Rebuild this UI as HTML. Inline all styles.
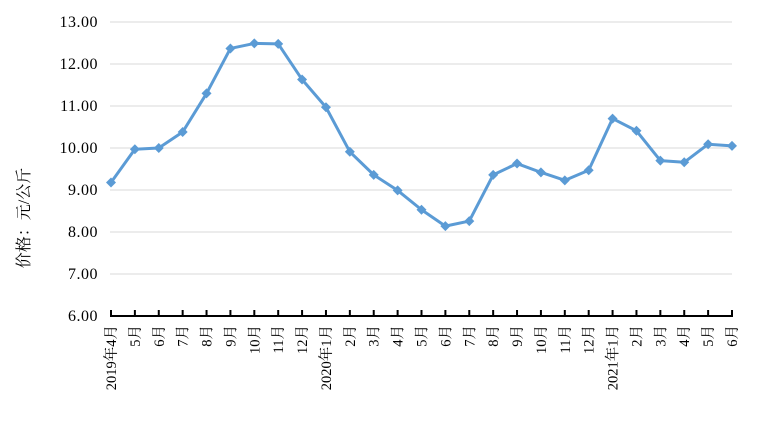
<!DOCTYPE html>
<html><head><meta charset="utf-8"><style>
body{margin:0;background:#fff;}
svg text{font-family:"Liberation Serif","Noto Serif CJK SC",serif;fill:#000;}
</style></head><body>
<svg id="chart" width="764" height="432" xmlns="http://www.w3.org/2000/svg"></svg>
<script>
const categories=["2019年4月","5月","6月","7月","8月","9月","10月","11月","12月","2020年1月","2月","3月","4月","5月","6月","7月","8月","9月","10月","11月","12月","2021年1月","2月","3月","4月","5月","6月"];
const values=[9.18,9.97,10.0,10.38,11.3,12.37,12.49,12.48,11.63,10.97,9.91,9.36,8.99,8.53,8.14,8.26,9.36,9.63,9.42,9.23,9.47,10.7,10.41,9.7,9.66,10.09,10.05];
const yTicks=[6,7,8,9,10,11,12,13];
const yTickLabels=["6.00","7.00","8.00","9.00","10.00","11.00","12.00","13.00"];
const NS="http://www.w3.org/2000/svg";
const svg=document.getElementById('chart');
const x0=111,x1=732,yMin=6,yMax=13,yb=316,yt=22;
function xs(i){return x0+(x1-x0)*i/(categories.length-1);}
function ys(v){return yb-(v-yMin)*(yb-yt)/(yMax-yMin);}
function mk(t,a){const e=document.createElementNS(NS,t);for(const k in a)e.setAttribute(k,a[k]);svg.appendChild(e);return e;}
yTicks.forEach((v,i)=>{
  if(v!==yMin){const g=mk('line',{x1:x0-1,x2:x1,y1:ys(v),y2:ys(v),stroke:'#d9d9d9','stroke-width':1});
  
  }
  const t=mk('text',{x:98,y:ys(v)+5,'text-anchor':'end','font-size':'16','letter-spacing':'0.5'});
  
  
  t.textContent=yTickLabels[i];
});
const ax=mk('line',{x1:x0-1,x2:x1+1,y1:yb,y2:yb,stroke:'#000','stroke-width':2});


categories.forEach((c,i)=>{
  const tk=mk('line',{x1:xs(i),x2:xs(i),y1:yb,y2:yb-6,stroke:'#000','stroke-width':2});
  
  
  const t=mk('text',{transform:`translate(${xs(i)+5},325) rotate(-90)`,'text-anchor':'end','font-size':'14.5'});
  
  
  t.textContent=c;
});
const yt2=mk('text',{transform:'translate(29,218) rotate(-90)','text-anchor':'middle','font-size':'16'});


yt2.textContent='价格：元/公斤';
const pts=values.map((v,i)=>xs(i)+','+ys(v)).join(' ');
const pl=mk('polyline',{points:pts,fill:'none',stroke:'#5b9bd5','stroke-width':3,'stroke-linejoin':'round'});


values.forEach((v,i)=>{
  const cx=xs(i),cy=ys(v),r=5;
  const m=mk('polygon',{points:`${cx},${cy-r} ${cx+r},${cy} ${cx},${cy+r} ${cx-r},${cy}`,fill:'#5b9bd5'});
  
  
});
</script>
</body></html>
